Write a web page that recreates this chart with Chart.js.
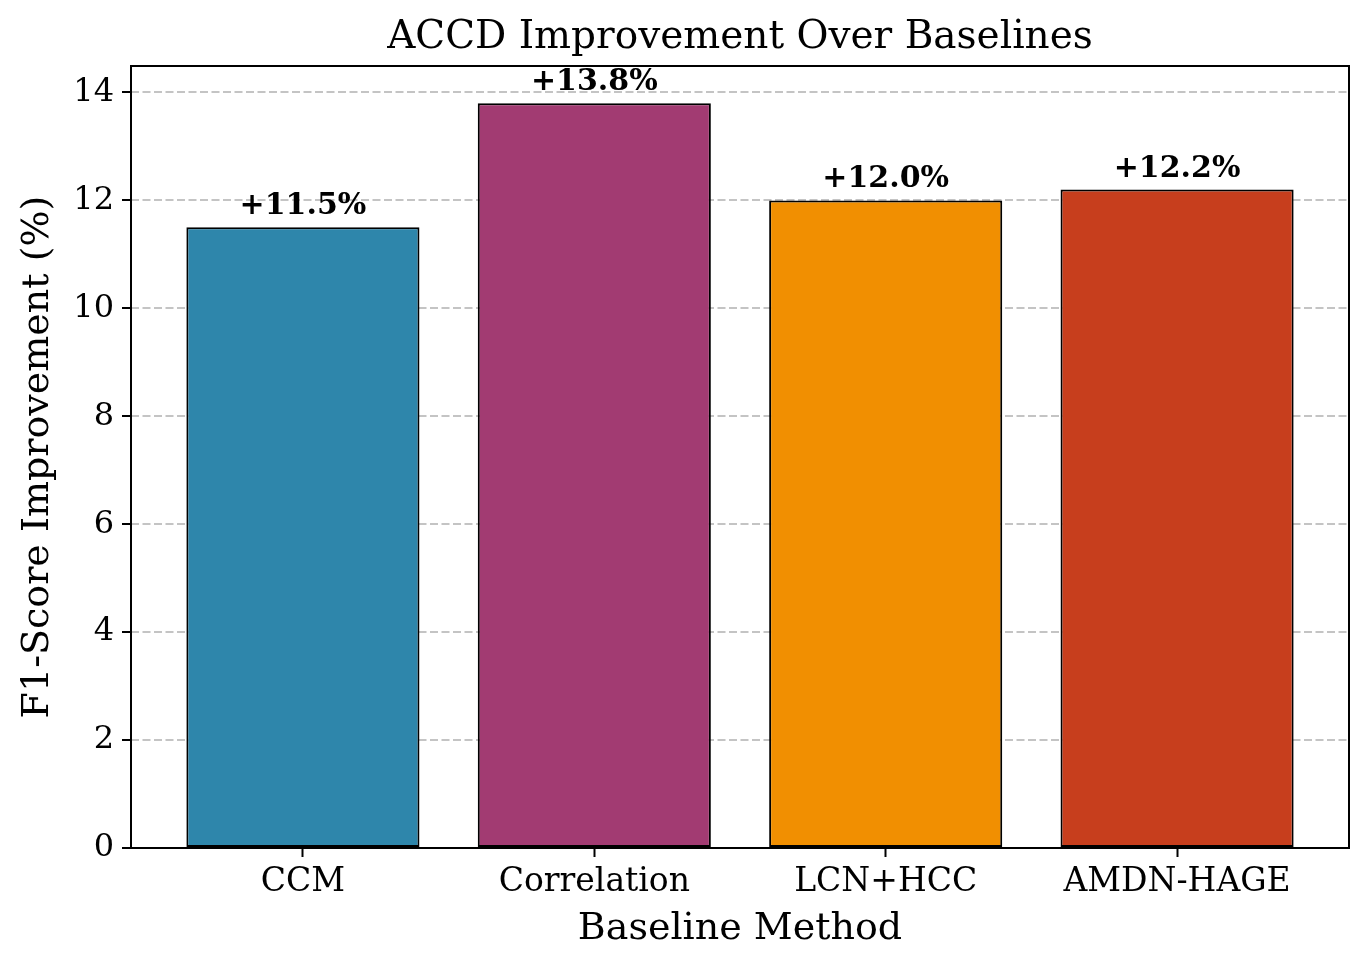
<!DOCTYPE html>
<html>
<head>
<meta charset="utf-8">
<script src="https://cdn.jsdelivr.net/npm/chart.js@4"></script>
<style>
  html, body { margin: 0; padding: 0; background: #ffffff; }
  #wrap { width: 1369px; height: 968px; }
</style>
</head>
<body>
<div id="wrap"><canvas id="c" width="1369" height="968"></canvas></div>
<script>
const categories = ['CCM', 'Correlation', 'LCN+HCC', 'AMDN-HAGE'];
const improvements = [11.5, 13.8, 12.0, 12.2];
const barLabels = ['+11.5%', '+13.8%', '+12.0%', '+12.2%'];
const barColors = ['#2E86AB', '#A23B72', '#F18F01', '#C73E1D'];
const yTicks = [0, 2, 4, 6, 8, 10, 12, 14];
const xTicks = [0, 1, 2, 3];

const FONT = "'DejaVu Serif', serif";

const framePlugin = {
  id: 'frame',
  afterDraw(chart) {
    const {ctx, chartArea: a} = chart;
    ctx.save();
    ctx.strokeStyle = '#000';
    ctx.lineWidth = 2;
    ctx.strokeRect(a.left, a.top, a.right - a.left, a.bottom - a.top);
    ctx.restore();
  }
};

const valueLabelPlugin = {
  id: 'valueLabels',
  afterDatasetsDraw(chart) {
    const {ctx} = chart;
    const xs = chart.scales.x, ys = chart.scales.y;
    ctx.save();
    ctx.font = "bold 30px " + FONT;
    ctx.fillStyle = '#000';
    ctx.textAlign = 'center';
    ctx.textBaseline = 'alphabetic';
    improvements.forEach((v, i) => {
      const px = xs.getPixelForValue(i);
      const py = ys.getPixelForValue(v) - 13;
      ctx.fillText(barLabels[i], px, py);
    });
    ctx.restore();
  }
};

new Chart(document.getElementById('c'), {
  type: 'bar',
  data: {
    datasets: [{
      data: improvements.map((v, i) => ({x: i, y: v})),
      backgroundColor: barColors,
      borderColor: '#000',
      borderWidth: 2,
      borderSkipped: false,
      barPercentage: 0.8,
      categoryPercentage: 1.0
    }]
  },
  options: {
    responsive: false,
    animation: false,
    devicePixelRatio: 1,
    layout: { padding: { left: 0, right: 20, top: 0, bottom: 0 } },
    plugins: {
      legend: { display: false },
      tooltip: { enabled: false },
      title: {
        display: true,
        fullSize: false,
        text: 'ACCD Improvement Over Baselines',
        color: '#000',
        font: { family: FONT, size: 39, weight: 'normal', lineHeight: 1.2 },
        padding: { top: 14, bottom: 5.2 }
      }
    },
    scales: {
      x: {
        type: 'linear',
        offset: false,
        min: -0.59,
        max: 3.59,
        afterBuildTicks(scale) { scale.ticks = xTicks.map(v => ({value: v})); },
        afterFit(scale) { scale.height = 120; },
        ticks: {
          color: '#000',
          font: { family: FONT, size: 33 },
          padding: 6,
          maxRotation: 0,
          autoSkip: false,
          callback: (v) => categories[v] ?? ''
        },
        grid: {
          offset: false,
          drawOnChartArea: false,
          drawTicks: true,
          tickLength: 9,
          tickColor: '#000',
          tickWidth: 2
        },
        border: { display: false },
        title: {
          display: true,
          text: 'Baseline Method',
          color: '#000',
          font: { family: FONT, size: 38 },
          padding: { top: 0, bottom: 16 }
        }
      },
      y: {
        min: 0,
        max: 14.49,
        afterBuildTicks(scale) { scale.ticks = yTicks.map(v => ({value: v})); },
        afterFit(scale) { scale.width = 131; },
        ticks: {
          color: '#000',
          font: { family: FONT, size: 32 },
          padding: 8
        },
        grid: {
          color: 'rgba(176,176,176,0.75)',
          lineWidth: 2,
          drawTicks: true,
          tickLength: 9,
          tickColor: '#000',
          tickWidth: 2
        },
        border: { display: false, dash: [8, 3.5] },
        title: {
          display: true,
          text: 'F1-Score Improvement (%)',
          color: '#000',
          font: { family: FONT, size: 38 },
          padding: { top: 15, bottom: 0 }
        }
      }
    }
  },
  plugins: [framePlugin, valueLabelPlugin]
});
</script>
</body>
</html>
